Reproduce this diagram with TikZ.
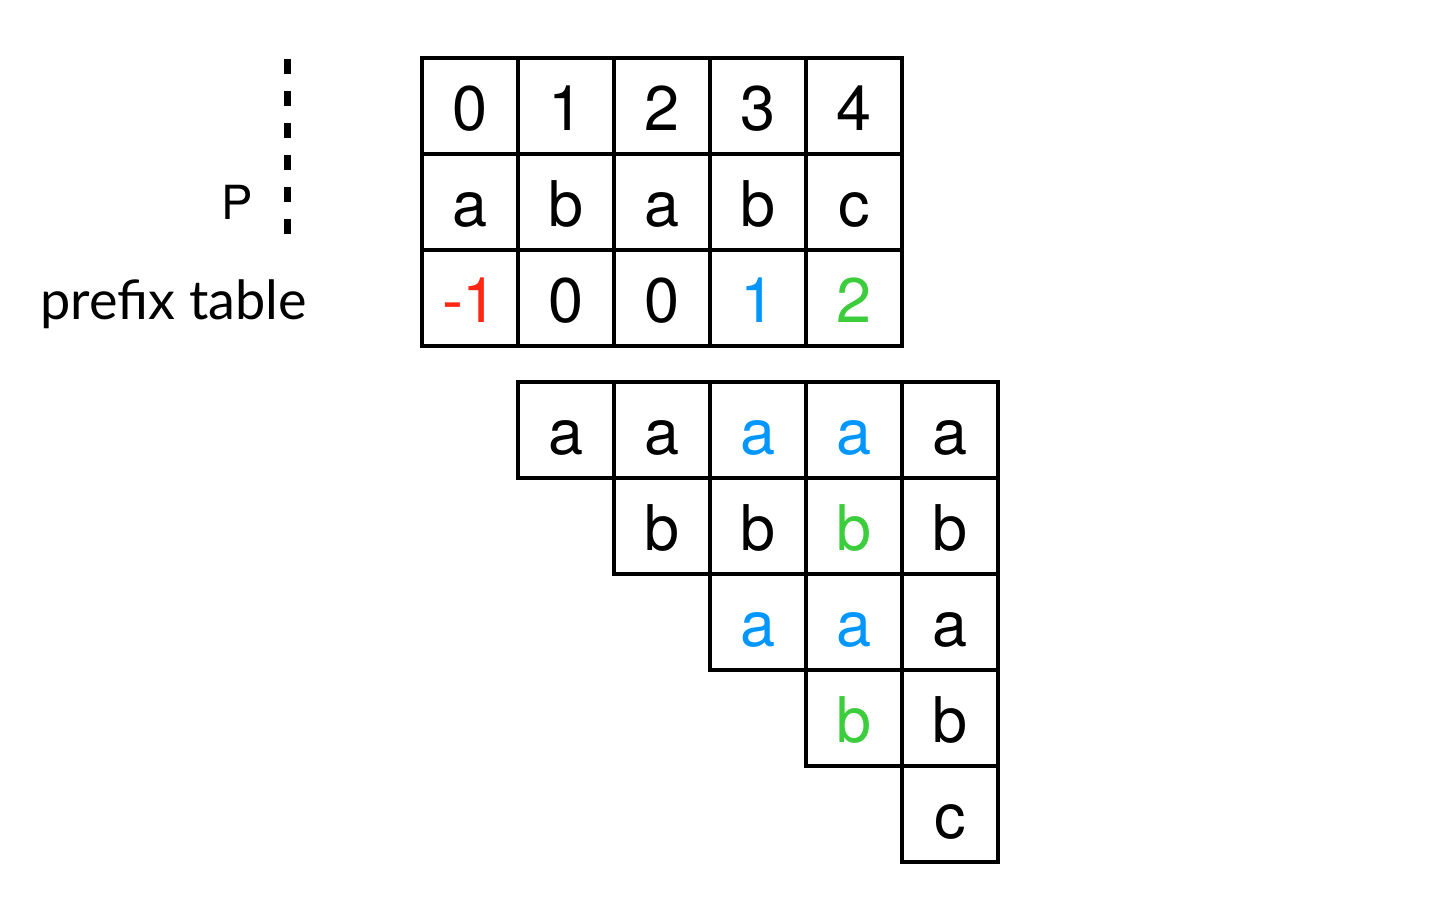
\documentclass[tikz,border=0pt]{standalone}
\usepackage{fontspec}
\setmainfont{TeX Gyre Heros}
\newfontfamily\labelfont{Lato}
\definecolor{cred}{RGB}{255,38,20}
\definecolor{cblue}{RGB}{0,150,255}
\definecolor{cgreen}{RGB}{60,205,60}
\begin{document}
\begin{tikzpicture}[x=1pt,y=-1pt,
  cell/.style={draw=black,line width=3.5pt,rectangle,minimum width=96pt,minimum height=96pt,
    inner sep=0pt,text height=49pt,text depth=0pt,font=\fontsize{63}{66}\selectfont},
  lbl/.style={inner sep=0pt,anchor=base}]
\useasboundingbox (0,0) rectangle (1452,910);
% top table
\foreach \t [count=\i from 0] in {0,1,2,3,4}{
  \node[cell] (n\i) at (470+96*\i,106) {\t};}
\foreach \t [count=\i from 0] in {a,b,a,b,c}{
  \node[cell] (p\i) at (470+96*\i,202) {\t};}
\node[cell,text=cred] (f0) at (470,298) {-1};
\node[cell] (f1) at (566,298) {0};
\node[cell] (f2) at (662,298) {0};
\node[cell,text=cblue] (f3) at (758,298) {1};
\node[cell,text=cgreen] (f4) at (854,298) {2};
% labels
\node[lbl,font=\fontsize{47}{50}\selectfont] (P) at (237,219) {P};
\coordinate (dtop) at (287,59);
\coordinate (dbot) at (287,234);
\draw[line width=7pt,dash pattern=on 15pt off 17pt] (dtop) -- (dbot);
\node[lbl,anchor=base east,font=\labelfont\fontsize{54}{58}\selectfont] (pt) at (307,319) {prefix table};
% staircase
\node[cell] (r1c1) at (566,430) {a};
\node[cell] (r1c2) at (662,430) {a};
\node[cell,text=cblue] (r1c3) at (758,430) {a};
\node[cell,text=cblue] (r1c4) at (854,430) {a};
\node[cell] (r1c5) at (950,430) {a};
\node[cell] (r2c2) at (662,526) {b};
\node[cell] (r2c3) at (758,526) {b};
\node[cell,text=cgreen] (r2c4) at (854,526) {b};
\node[cell] (r2c5) at (950,526) {b};
\node[cell,text=cblue] (r3c3) at (758,622) {a};
\node[cell,text=cblue] (r3c4) at (854,622) {a};
\node[cell] (r3c5) at (950,622) {a};
\node[cell,text=cgreen] (r4c4) at (854,718) {b};
\node[cell] (r4c5) at (950,718) {b};
\node[cell] (r5c5) at (950,814) {c};
\end{tikzpicture}
\end{document}
